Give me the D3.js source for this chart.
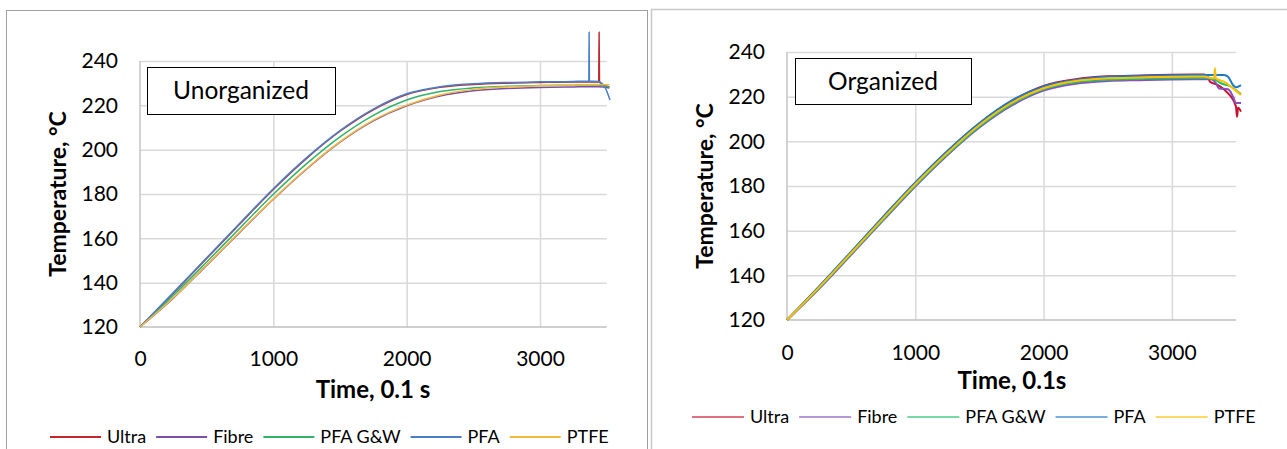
<!DOCTYPE html>
<html>
<head>
<meta charset="utf-8">
<script src="https://cdn.jsdelivr.net/npm/d3@7"></script>
<style>
  body { margin: 0; background: #fff; }
  svg { display: block; font-family: Lato, "Open Sans", sans-serif; }
</style>
</head>
<body>
<script>
const width = 1287,
  height = 449;

// series names + colours (Excel order, last drawn on top)
const seriesNames = ["Ultra", "Fibre", "PFA G&W", "PFA", "PTFE"];
const leftColors = ["#c0282d", "#7b4fa6", "#2fb36a", "#4a7fc7", "#f5b93a"];
const rightColors = ["#c8102e", "#8a4fc0", "#1fbf6a", "#1f7ac8", "#ffc000"];

const yTicks = [120, 140, 160, 180, 200, 220, 240];
const xTicks = [0, 1000, 2000, 3000];

// Unorganized: [time (0.1 s), temperature °C]
const leftUltra = [[0,120],[250,135.2],[500,150.9],[750,166.6],[1000,182.1],[1250,196.1],[1500,208.3],[1750,218],[2000,224.9],[2250,228.1],[2500,229.4],[2750,230],[3000,230.3],[3250,230.5],[3440,230.5],[3443,253],[3446,230.4],[3480,229.2],[3520,228.3]];
const leftFibre = [[0,120],[250,133],[500,147.8],[750,162.8],[1000,177.6],[1250,191.3],[1500,203.4],[1750,213],[2000,219.8],[2250,224.2],[2500,226.6],[2750,227.6],[3000,228.1],[3250,228.3],[3440,228.4],[3520,227.8]];
const leftPfaGW = [[0,120],[250,134.2],[500,149.3],[750,164.7],[1000,179.9],[1250,193.7],[1500,205.8],[1750,215.5],[2000,222.4],[2250,226.2],[2500,227.9],[2750,228.6],[3000,228.9],[3250,229.1],[3440,229.2],[3520,228.3]];
const leftPfa = [[0,120],[250,135.5],[500,151.2],[750,166.9],[1000,182.4],[1250,196.4],[1500,208.6],[1750,218.3],[2000,225.2],[2250,228.4],[2500,229.7],[2750,230.3],[3000,230.6],[3250,230.8],[3366,231],[3368,253],[3370,231],[3435,230.8],[3488,228],[3525,222.4]];
const leftPtfe = [[0,120],[250,133.2],[500,148],[750,163],[1000,177.8],[1250,191.5],[1500,203.6],[1750,213.3],[2000,220.1],[2250,224.7],[2500,227.2],[2750,228.3],[3000,228.8],[3250,229.1],[3440,229.4],[3520,229.3]];

// Organized
const rightUltra = [[0,120],[250,134.8],[500,150.3],[750,166],[1000,181.3],[1250,195.5],[1500,208],[1750,218],[2000,224.8],[2250,227.8],[2500,229.1],[2750,229.5],[3000,229.8],[3250,229.9],[3281,229],[3297,226.7],[3359,225.2],[3398,223.7],[3438,221.5],[3461,220],[3500,215.5],[3508,211],[3516,215],[3539,213.3]];
const rightFibre = [[0,120],[250,134],[500,149.2],[750,164.6],[1000,179.8],[1250,193.8],[1500,206.2],[1750,216],[2000,222.7],[2250,225.8],[2500,227],[2750,227.4],[3000,227.7],[3250,227.8],[3305,227.8],[3344,226],[3367,223.7],[3438,223.3],[3477,220],[3500,217.2],[3539,217.2]];
const rightPfaGW = [[0,120],[250,134.3],[500,149.6],[750,165],[1000,180.2],[1250,194.2],[1500,206.7],[1750,216.6],[2000,223.3],[2250,226.4],[2500,227.6],[2750,228],[3000,228.3],[3250,228.4],[3328,227.8],[3383,226],[3461,224.5],[3516,222.2],[3539,221.2]];
const rightPfa = [[0,120],[250,135],[500,150.6],[750,166.3],[1000,181.6],[1250,195.7],[1500,208.2],[1750,218.2],[2000,224.6],[2250,227.5],[2500,228.9],[2750,229.3],[3000,229.6],[3250,229.7],[3406,229.7],[3438,228.9],[3477,225.2],[3500,224.2],[3539,225.2]];
const rightPtfe = [[0,120],[250,134.6],[500,150],[750,165.5],[1000,180.8],[1250,194.8],[1500,207.3],[1750,217.2],[2000,223.8],[2250,227],[2500,228.2],[2750,228.6],[3000,228.9],[3250,229],[3330,228.2],[3336,232.7],[3342,228.2],[3406,226.7],[3477,223.7],[3539,220.7]];

const svg = d3
  .select("body")
  .append("svg")
  .attr("width", width)
  .attr("height", height);

// panel frames
svg.append("rect")
  .attr("x", 6.5).attr("y", 10.5)
  .attr("width", 641).attr("height", 470)
  .attr("fill", "none")
  .attr("stroke", "#a0a0a0");

svg.append("path")
  .attr("d", "M651.5,480V9.5H1290")
  .attr("fill", "none")
  .attr("stroke", "#c8c8c8")
  .attr("stroke-width", 1.5);

function drawChart(opt) {
  const x = d3.scaleLinear().domain([0, 3500]).range([opt.left, opt.right]);
  const y = d3.scaleLinear().domain([120, 240]).range([opt.bottom, opt.top]);
  const g = svg.append("g");

  // gridlines
  g.append("g")
    .attr("transform", `translate(${opt.left},0)`)
    .call(d3.axisLeft(y).tickValues(yTicks.slice(1)).tickSize(-(opt.right - opt.left)).tickFormat(""))
    .call(a => a.select(".domain").remove())
    .call(a => a.selectAll("line").attr("stroke", "#d9d9d9").attr("stroke-width", 1.5));

  g.append("g")
    .attr("transform", `translate(0,${opt.bottom})`)
    .call(d3.axisBottom(x).tickValues(xTicks.slice(1)).tickSize(-(opt.bottom - opt.top)).tickFormat(""))
    .call(a => a.select(".domain").remove())
    .call(a => a.selectAll("line").attr("stroke", "#d9d9d9").attr("stroke-width", 1.5));

  // axis lines
  g.append("line")
    .attr("x1", opt.left).attr("x2", opt.left)
    .attr("y1", opt.top).attr("y2", opt.bottom)
    .attr("stroke", "#c4c4c4").attr("stroke-width", 1.5);
  g.append("line")
    .attr("x1", opt.left).attr("x2", opt.right)
    .attr("y1", opt.bottom).attr("y2", opt.bottom)
    .attr("stroke", "#bfbfbf").attr("stroke-width", 1.5);

  // tick labels
  g.append("g")
    .attr("transform", `translate(${opt.left},0)`)
    .call(d3.axisLeft(y).tickValues(yTicks).tickSize(0).tickPadding(22).tickFormat(d3.format("d")))
    .call(a => a.select(".domain").remove())
    .call(a => a.selectAll("text").attr("font-size", 21).attr("font-family", "Lato").attr("fill", "#000"));

  g.append("g")
    .attr("transform", `translate(0,${opt.bottom})`)
    .call(d3.axisBottom(x).tickValues(xTicks).tickSize(0).tickPadding(opt.xPad).tickFormat(d3.format("d")))
    .call(a => a.select(".domain").remove())
    .call(a => a.selectAll("text").attr("font-size", 21).attr("font-family", "Lato").attr("fill", "#000"));

  // lines
  const line = d3.line()
    .x(d => x(d[0]))
    .y(d => y(d[1]))
    .curve(d3.curveMonotoneX);

  g.selectAll(".series")
    .data(opt.series)
    .enter()
    .append("path")
    .attr("class", "series")
    .attr("d", d => line(d))
    .attr("fill", "none")
    .attr("stroke", (d, i) => opt.colors[i])
    .attr("stroke-width", opt.lineWidth);

  // axis titles
  g.append("text")
    .attr("transform", `translate(${opt.yTitleX},${(opt.top + opt.bottom) / 2}) rotate(-90)`)
    .attr("text-anchor", "middle")
    .attr("dy", "0.35em")
    .attr("font-weight", "bold")
    .attr("font-size", 23)
    .text("Temperature, °C");

  g.append("text")
    .attr("x", opt.xTitleX)
    .attr("y", opt.xTitleY)
    .attr("text-anchor", "middle")
    .attr("font-weight", "bold")
    .attr("font-size", 24)
    .text(opt.xTitle);

  // label box
  g.append("rect")
    .attr("x", opt.box[0] + 0.5).attr("y", opt.box[1] + 0.5)
    .attr("width", opt.box[2]).attr("height", opt.box[3])
    .attr("fill", "#fff")
    .attr("stroke", "#000");
  g.append("text")
    .attr("x", opt.box[0] + opt.box[2] / 2)
    .attr("y", opt.box[1] + opt.box[3] / 2)
    .attr("dy", "0.35em")
    .attr("text-anchor", "middle")
    .attr("font-size", 24.5)
    .text(opt.label);

  // legend
  const lg = g.append("g").attr("transform", `translate(${opt.legendX},${opt.legendY})`);
  let cx = 0;
  seriesNames.forEach((name, i) => {
    lg.append("line")
      .attr("x1", cx).attr("x2", cx + opt.legendLine)
      .attr("y1", 0).attr("y2", 0)
      .attr("stroke", opt.colors[i])
      .attr("stroke-opacity", opt.legendOpacity)
      .attr("stroke-width", 2);
    const t = lg.append("text")
      .attr("x", cx + opt.legendLine + 6)
      .attr("dy", "0.35em")
      .attr("font-size", 18)
      .text(name);
    cx += opt.legendLine + 6 + t.node().getComputedTextLength() + 10;
  });
}

drawChart({
  left: 140, right: 606.7, top: 61, bottom: 327, xPad: 24,
  series: [leftUltra, leftFibre, leftPfaGW, leftPfa, leftPtfe],
  colors: leftColors, lineWidth: 1.5,
  yTitleX: 58, xTitleX: 373, xTitleY: 398, xTitle: "Time, 0.1 s",
  box: [147, 67, 188, 47], label: "Unorganized",
  legendX: 50, legendY: 437, legendLine: 51, legendOpacity: 1
});

drawChart({
  left: 787, right: 1236, top: 52, bottom: 320, xPad: 25,
  series: [rightUltra, rightFibre, rightPfaGW, rightPfa, rightPtfe],
  colors: rightColors, lineWidth: 2,
  yTitleX: 705, xTitleX: 1012, xTitleY: 389, xTitle: "Time, 0.1s",
  box: [795, 58, 176, 46], label: "Organized",
  legendX: 692, legendY: 417, legendLine: 52, legendOpacity: 0.6
});
</script>
</body>
</html>
